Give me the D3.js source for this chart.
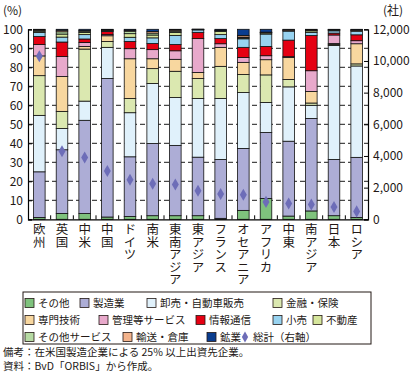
<!DOCTYPE html>
<html><head><meta charset="utf-8">
<script src="https://cdn.jsdelivr.net/npm/d3@7"></script>
<style>
body{margin:0;background:#fff}
text{font-family:"Noto Sans CJK JP","Noto Sans",sans-serif;fill:#231815}
</style>
</head><body><svg id="c" width="414" height="382"></svg>
<script>
const regions = ["欧州","英国","中米","中国","ドイツ","南米","東南アジア","東アジア","フランス","オセアニア","アフリカ","中東","南アジア","日本","ロシア"];
const industries = ["その他","製造業","卸売・自動車販売","金融・保険","専門技術","管理等サービス","情報通信","小売","不動産","その他サービス","輸送・倉庫","鉱業"];
const colors = ["#7fc27d","#adadd6","#e0f1fb","#dbe8b0","#f8d79f","#e8a9cb","#e50012","#98d3f0","#d6e69c","#b6daa3","#f3b38c","#0a3d8f"];
const sonota      = [1,3.1,3,1.2,1.5,1.9,1.9,1.9,0.5,4.7,11,1.7,4.4,1.9,1];
const seizou      = [24,33.5,49.1,72.9,31.4,38,37,30.8,31,32.6,34.7,39.4,48.7,29.6,31.6];
const oroshi      = [29.7,11.2,10.1,16.4,23.2,31.6,25.2,30.9,32.1,29.4,15.8,28.6,6.9,60,48.1];
const kinyu       = [20.9,9,27.4,3.1,7.5,7.8,13.8,10.5,16.9,9.5,14.5,3.9,1.2,0.5,1.1];
const senmon      = [10.4,18.4,1.4,3.0,20.9,5.2,6.3,3.2,10,6.4,8,11.5,6.1,0.5,10.6];
const kanri       = [6,10.5,2.1,0.6,5.3,4.8,4.5,17.8,1.9,2.6,2.1,0.5,10.9,4.5,1.6];
const joho        = [4.2,7.6,1.8,1.6,3.8,3.2,3.3,3.3,2.7,5.3,4.9,8.7,18.5,1,3.1];
const kouri       = [2.1,2.6,2.3,0.3,2.2,3,4.8,1.3,2.1,4.5,6.5,4.8,1.7,1.2,1.9];
const fudousan    = [0.7,1.6,1.1,0.3,1.9,1.5,1.5,0.1,1.7,0.5,0.6,0.1,0.8,0.3,0.3];
const sonotaSvc   = [0.5,1.2,0.7,0.2,1.3,1,0.7,0.1,0.4,0.4,0.2,0.1,0.3,0.2,0.2];
const yuso        = [0.3,0.8,0.3,0.3,0.5,0.8,0.6,0.1,0.2,0.9,0.2,0.6,0.2,0.2,0.4];
const kogyo       = [0.2,0.5,0.7,0.1,0.5,1.2,0.4,0.1,0.5,3.2,1.5,0.1,0.3,0.1,0.1];
const totals      = [10300,4300,3900,3050,2500,2250,2200,1800,1600,1550,1100,1000,930,780,500];
const leftTicks = [0,10,20,30,40,50,60,70,80,90,100];
const rightTicks = [0,2000,4000,6000,8000,10000,12000];

const series = [sonota,seizou,oroshi,kinyu,senmon,kanri,joho,kouri,fudousan,sonotaSvc,yuso,kogyo];
const table = regions.map((r,i)=>{const o={region:r,total:totals[i]};industries.forEach((k,j)=>o[k]=series[j][i]);return o;});

const svg = d3.select("#c");
const L=28,R=368,T=29.3,B=219.3;
const x = d3.scaleBand().domain(regions).range([L,R]).paddingInner(0.49).paddingOuter(0.245);
const y = d3.scaleLinear().domain([0,100]).range([B,T]);
const y2 = d3.scaleLinear().domain([0,12000]).range([B,T]);

// grid
svg.append("g").selectAll("line").data(leftTicks.filter(d=>d>0&&d<100)).join("line")
  .attr("x1",L).attr("x2",R).attr("y1",d=>y(d)).attr("y2",d=>y(d))
  .attr("stroke","#000").attr("stroke-width",0.9).attr("stroke-dasharray","5,3");

// bars
const stack = d3.stack().keys(industries)(table);
svg.append("g").selectAll("g").data(stack).join("g").attr("fill",(d,i)=>colors[i])
  .selectAll("rect").data(d=>d).join("rect")
  .attr("x",d=>x(d.data.region)).attr("width",x.bandwidth())
  .attr("y",d=>y(d[1])).attr("height",d=>y(d[0])-y(d[1]))
  .attr("stroke","#111").attr("stroke-width",0.8);

// axes
const gl = svg.append("g").attr("transform",`translate(${L},0)`)
  .call(d3.axisLeft(y).tickValues(leftTicks).tickSize(-4).tickPadding(5));
const gr = svg.append("g").attr("transform",`translate(${R},0)`)
  .call(d3.axisRight(y2).tickValues(rightTicks).tickSize(-4).tickPadding(5).tickFormat(d3.format(",")));
const gb = svg.append("g").attr("transform",`translate(0,${B})`)
  .call(d3.axisBottom(x).tickSize(0).tickFormat(""));
[gl,gr,gb].forEach(g=>{g.selectAll("path").attr("stroke","#000").attr("stroke-width",1.2);g.selectAll("line").attr("stroke","#000");g.selectAll("text").attr("font-size",12).attr("fill","#231815").attr("font-family",'"Noto Sans CJK JP",sans-serif');});
// separator ticks between categories
const step = x.step();
svg.append("g").selectAll("line").data(regions.slice(1)).join("line")
  .attr("x1",d=>x(d)-x.paddingInner()*step/2).attr("x2",d=>x(d)-x.paddingInner()*step/2)
  .attr("y1",B).attr("y2",B-4).attr("stroke","#000");

// totals diamonds
svg.append("g").selectAll("path").data(table).join("path")
  .attr("transform",d=>`translate(${x(d.region)+x.bandwidth()/2},${y2(d.total)})`)
  .attr("d",d3.symbol(d3.symbolDiamond,42)).attr("fill","#6d6db8");

// unit labels
svg.append("text").attr("x",3).attr("y",15).attr("font-size",12).text("(%)");
svg.append("text").attr("x",383).attr("y",15).attr("font-size",12).text("(社)");

// category labels vertical
svg.append("g").selectAll("text").data(regions).join("text")
  .attr("x",d=>x(d)+x.bandwidth()/2).attr("y",223)
  .attr("font-size",12.5)
  .style("writing-mode","vertical-rl").style("text-orientation","upright")
  .text(d=>d);

// legend
const lg = svg.append("g");
lg.append("rect").attr("x",23).attr("y",292).attr("width",348).attr("height",52).attr("fill","none").attr("stroke","#231815").attr("stroke-width",1);
const legendPos = [
 [0,25,303],[1,80,303],[2,147,303],[3,273,303],
 [4,25,320],[5,99,320],[6,196,320],[7,273,320],[8,313,320],
 [9,25,337],[10,123,337],[11,207,337]];
legendPos.forEach(([i,lx,ly])=>{
  lg.append("rect").attr("x",lx).attr("y",ly-4.5).attr("width",9).attr("height",9).attr("fill",colors[i]).attr("stroke","#231815").attr("stroke-width",0.8);
  lg.append("text").attr("x",lx+13).attr("y",ly+4).attr("font-size",10.5).text(industries[i]);
});
lg.append("path").attr("transform","translate(245,337)").attr("d",d3.symbol(d3.symbolDiamond,34)).attr("fill","#6d6db8");
lg.append("text").attr("x",253).attr("y",341).attr("font-size",10.5).text("総計（右軸）");

// notes
svg.append("text").attr("x",3).attr("y",356).attr("font-size",10.5).text("備考：在米国製造企業による 25% 以上出資先企業。");
svg.append("text").attr("x",3).attr("y",370).attr("font-size",10.5).text("資料：BvD「ORBIS」から作成。");
</script>
</body></html>
